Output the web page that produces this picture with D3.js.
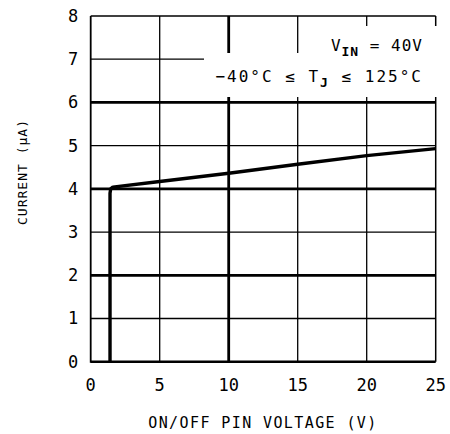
<!DOCTYPE html>
<html><head><meta charset="utf-8">
<script src="https://cdn.jsdelivr.net/npm/d3@7"></script>
<style>body{margin:0;background:#fff}svg{display:block}text{font-family:"DejaVu Sans Mono",monospace;fill:#000}</style>
</head><body>
<script>
const xTicks = [0,5,10,15,20,25];
const yTicks = [0,1,2,3,4,5,6,7,8];
const heavyY = [2,4,6];
const heavyX = [10];
const curveX = [1.4,1.4,1.45,1.6,5,10,15,20,25];
const curveY = [0,3.9,4.0,4.04,4.17,4.36,4.57,4.77,4.93];

const W=450,H=434, L=90.7,R=435.7,T=16,B=361.7;
const svg=d3.select("body").append("svg").attr("width",W).attr("height",H);
const x=d3.scaleLinear().domain([0,25]).range([L,R]);
const y=d3.scaleLinear().domain([0,8]).range([B,T]);

// grid
const g=svg.append("g");
g.selectAll("line.v").data(xTicks.slice(1,-1)).join("line")
 .attr("x1",d=>x(d)).attr("x2",d=>x(d)).attr("y1",T).attr("y2",B)
 .attr("stroke","#000").attr("stroke-width",d=>heavyX.includes(d)?2.8:1.3);
g.selectAll("line.h").data(yTicks.slice(1,-1)).join("line")
 .attr("x1",L).attr("x2",R).attr("y1",d=>y(d)).attr("y2",d=>y(d))
 .attr("stroke","#000").attr("stroke-width",d=>heavyY.includes(d)?2.8:1.3);
// border
svg.append("line").attr("x1",L).attr("x2",R).attr("y1",T).attr("y2",T).attr("stroke","#000").attr("stroke-width",1.5);
svg.append("line").attr("x1",R).attr("x2",R).attr("y1",T).attr("y2",B).attr("stroke","#000").attr("stroke-width",1.5);
svg.append("line").attr("x1",L).attr("x2",L).attr("y1",T).attr("y2",B+1).attr("stroke","#000").attr("stroke-width",1.8);
svg.append("line").attr("x1",L).attr("x2",R).attr("y1",B).attr("y2",B).attr("stroke","#000").attr("stroke-width",2.4);

// annotation masks
svg.append("rect").attr("x",322).attr("y",26).attr("width",120).attr("height",33).attr("fill","#fff");
svg.append("rect").attr("x",204).attr("y",53).attr("width",238).attr("height",44).attr("fill","#fff");

// curve
svg.append("path").datum(curveX.map((v,i)=>[v,curveY[i]]))
 .attr("d",d3.line().x(d=>x(d[0])).y(d=>y(d[1])).curve(d3.curveLinear))
 .attr("fill","none").attr("stroke","#000").attr("stroke-width",3.4).attr("stroke-linejoin","round");

// tick labels
svg.selectAll("text.xt").data(xTicks).join("text")
 .attr("x",d=>x(d)).attr("y",391).attr("text-anchor","middle").attr("font-size",17).text(d=>d);
svg.selectAll("text.yt").data(yTicks).join("text")
 .attr("x",73).attr("y",d=>y(d)+6).attr("text-anchor","middle").attr("font-size",17).text(d=>d);

// axis titles
svg.append("text").attr("x",263).attr("y",428).attr("text-anchor","middle").attr("font-size",15).attr("letter-spacing",1.4).text("ON/OFF PIN VOLTAGE (V)");
svg.append("text").attr("transform","translate(27,172) rotate(-90)").attr("text-anchor","middle").attr("font-size",13).attr("letter-spacing",1).text("CURRENT (μA)");

// annotation text
const a1=svg.append("text").attr("x",423).attr("y",51).attr("text-anchor","end").attr("font-size",16).attr("letter-spacing",1);
a1.append("tspan").text("V");
a1.append("tspan").attr("dy",5).attr("font-size",13).attr("font-weight","bold").text("IN");
a1.append("tspan").attr("dy",-5).text(" = 40V");
const a2=svg.append("text").attr("x",423).attr("y",82).attr("text-anchor","end").attr("font-size",16).attr("letter-spacing",2);
a2.append("tspan").text("\u221240\u00B0C \u2264 T");
a2.append("tspan").attr("dy",5).attr("font-size",13).attr("font-weight","bold").text("J");
a2.append("tspan").attr("dy",-5).text(" \u2264 125\u00B0C");
</script>
</body></html>
